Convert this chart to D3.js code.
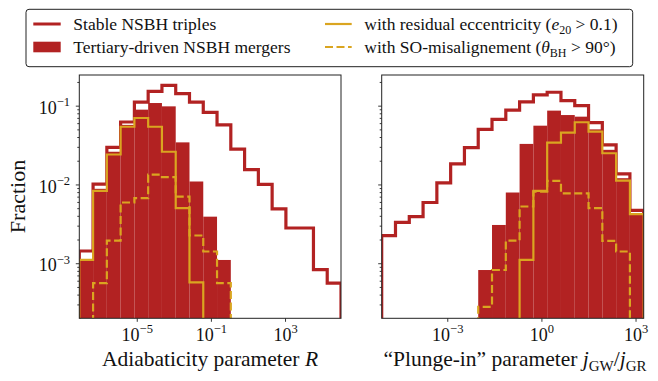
<!DOCTYPE html>
<html>
<head>
<meta charset="utf-8">
<script src="https://cdn.jsdelivr.net/npm/d3@7/dist/d3.min.js"></script>
<style>
  body { margin: 0; background: #fff; }
  text { font-family: 'Liberation Serif', 'Times New Roman', serif; fill: #111; }
</style>
</head>
<body>
<svg id="chart" width="658" height="381"></svg>
<script>
const RED = '#b22222';
const GOLD = '#daa520';

// log10 range of the 19 log-spaced bins in each panel
const rRange = [-8.10, 6.02];
const jRange = [-5.09, 3.26];
const nBins = 19;

// left panel: adiabaticity parameter R
const stableR = [1.43e-3, 0.0101, 0.0295, 0.062, 0.111, 0.152, 0.181, 0.142, 0.111, 0.082, 0.057, 0.028, 0.0154, 0.010, 0.0049, 0.0028, 0.0028, 8.3e-4, 5.6e-4];
const mergerR = [1.12e-3, 0.0088, 0.026, 0.057, 0.089, 0.108, 0.098, 0.0342, 0.0109, 0.0039, 1.1e-3, 0, 0, 0, 0, 0, 0, 0, 0];
const eccR = [1.1e-3, 0.0083, 0.024, 0.054, 0.0697, 0.054, 0.026, 0.005, 5.7e-4, 0, 0, 0, 0, 0, 0, 0, 0, 0, 0];
const misR = [0, 5.6e-4, 1.94e-3, 5.9e-3, 6.7e-3, 0.0133, 0.0124, 7.0e-3, 2.25e-3, 1.41e-3, 5.6e-4, 0, 0, 0, 0, 0, 0, 0, 0];

// right panel: plunge-in parameter jGW/jGR
const stableJ = [2.24e-3, 3.31e-3, 3.9e-3, 5.9e-3, 0.0105, 0.0182, 0.0293, 0.050, 0.067, 0.088, 0.112, 0.137, 0.148, 0.116, 0.100, 0.061, 0.0317, 0.0136, 4.7e-3];
const mergerJ = [0, 0, 0, 0, 0, 0, 0, 8.2e-4, 3.06e-3, 7.9e-3, 0.0327, 0.0557, 0.0865, 0.076, 0.0725, 0.050, 0.0275, 0.012, 4.3e-3];
const eccJ = [0, 0, 0, 0, 0, 0, 0, 0, 0, 0, 1.1e-3, 8.3e-3, 0.034, 0.0454, 0.0616, 0.0467, 0.0249, 0.0112, 4.2e-3];
const misJ = [0, 0, 0, 0, 0, 0, 0, 2.8e-4, 8.2e-4, 1.94e-3, 5.25e-3, 8.1e-3, 0.0111, 0.0077, 0.0077, 0.0050, 1.92e-3, 1.41e-3, 0];

const yTicks = [1e-3, 1e-2, 1e-1];
const rTicks = [1e-5, 1e-1, 1e3];
const jTicks = [1e-3, 1e0, 1e3];

const svg = d3.select('#chart');
svg.append('rect').attr('width', 658).attr('height', 381).attr('fill', '#fff');

const axTop = 75, axBottom = 318.3;
const y = d3.scaleLog().domain([2e-4, 0.245]).range([axBottom, axTop]);

const edges = (r) => d3.range(nBins + 1).map(i => Math.pow(10, r[0] + i * (r[1] - r[0]) / nBins));

function supLabel(sel, exp) {
  sel.text(null);
  sel.append('tspan').text('10');
  sel.append('tspan').attr('dy', -7.5).attr('font-size', 12.5).text(exp < 0 ? '\u2212' + (-exp) : exp);
}

function stepPath(vals, e, x) {
  const yy = v => v > 0 ? y(v) : axBottom + 60;
  const pts = [[x(e[0]), axBottom + 60]];
  vals.forEach((v, i) => { pts.push([x(e[i]), yy(v)]); pts.push([x(e[i + 1]), yy(v)]); });
  pts.push([x(e[e.length - 1]), axBottom + 60]);
  return d3.line()(pts);
}

function panel(id, left, right, range, stable, merger, ecc, mis, xTicks, showY) {
  const e = edges(range);
  const x = d3.scaleLog().domain([e[0], e[nBins]]).range([left, right]);
  const g = svg.append('g');

  g.append('clipPath').attr('id', 'clip-' + id)
    .append('rect').attr('x', left).attr('y', axTop).attr('width', right - left).attr('height', axBottom - axTop);
  const plot = g.append('g').attr('clip-path', `url(#clip-${id})`);

  // filled merger histogram
  plot.selectAll('rect.bar').data(merger.map((v, i) => ({ v, i })).filter(d => d.v > 0)).join('rect')
    .attr('class', 'bar')
    .attr('x', d => x(e[d.i]))
    .attr('width', d => x(e[d.i + 1]) - x(e[d.i]))
    .attr('y', d => y(d.v))
    .attr('height', d => axBottom - y(d.v))
    .attr('fill', RED);

  plot.append('path').attr('d', stepPath(stable, e, x))
    .attr('fill', 'none').attr('stroke', RED).attr('stroke-width', 3.2).attr('stroke-linejoin', 'miter');
  plot.append('path').attr('d', stepPath(ecc, e, x))
    .attr('fill', 'none').attr('stroke', GOLD).attr('stroke-width', 2.2);
  plot.append('path').attr('d', stepPath(mis, e, x))
    .attr('fill', 'none').attr('stroke', GOLD).attr('stroke-width', 2.2).attr('stroke-dasharray', '8,3.5');

  // y axis, major + minor ticks
  const minors = [];
  for (let p = -4; p <= -1; p++) for (let k = 2; k <= 9; k++) {
    const v = k * Math.pow(10, p);
    if (v > 2.05e-4 && v < 0.245) minors.push(v);
  }
  const yAxis = g.append('g').attr('transform', `translate(${left},0)`)
    .call(d3.axisLeft(y).tickValues(yTicks).tickSize(3.5).tickPadding(5).tickFormat(''));
  g.append('g').attr('transform', `translate(${left},0)`)
    .call(d3.axisLeft(y).tickValues(minors).tickSize(2).tickFormat(''));
  if (showY) {
    yAxis.selectAll('.tick text').each(function (d) { supLabel(d3.select(this), Math.round(Math.log10(d))); })
      .attr('font-size', 18).attr('dy', 7.6).attr('x', -9.3);
  }

  const xAxis = g.append('g').attr('transform', `translate(0,${axBottom})`)
    .call(d3.axisBottom(x).tickValues(xTicks).tickSize(3.5).tickPadding(5).tickFormat(''));
  xAxis.selectAll('.tick text').each(function (d) { supLabel(d3.select(this), Math.round(Math.log10(d))); })
    .attr('font-size', 18).attr('dy', null).attr('y', 22.5);

  g.selectAll('.domain').remove();
  g.selectAll('.tick line').attr('stroke', '#222').attr('stroke-width', 0.9);

  g.append('rect').attr('x', left).attr('y', axTop).attr('width', right - left).attr('height', axBottom - axTop)
    .attr('fill', 'none').attr('stroke', '#222').attr('stroke-width', 1);
}

panel('r', 79.3, 341, rRange, stableR, mergerR, eccR, misR, rTicks, true);
panel('j', 381.7, 643.7, jRange, stableJ, mergerJ, eccJ, misJ, jTicks, false);

// axis labels
const xl1 = svg.append('text').attr('x', 210).attr('y', 366).attr('text-anchor', 'middle').attr('font-size', 21.5);
xl1.append('tspan').text('Adiabaticity parameter ');
xl1.append('tspan').attr('font-style', 'italic').text('R');

const xl2 = svg.append('text').attr('x', 515).attr('y', 366).attr('text-anchor', 'middle').attr('font-size', 21.5);
xl2.append('tspan').text('\u201CPlunge-in\u201D parameter ');
xl2.append('tspan').attr('font-style', 'italic').text('j');
xl2.append('tspan').attr('font-size', 15).attr('dy', 5).text('GW');
xl2.append('tspan').attr('dy', -5).text('/');
xl2.append('tspan').attr('font-style', 'italic').text('j');
xl2.append('tspan').attr('font-size', 15).attr('dy', 5).text('GR');

svg.append('text').attr('transform', 'translate(25,196.5) rotate(-90)')
  .attr('text-anchor', 'middle').attr('font-size', 22).text('Fraction');

// legend
const lg = svg.append('g');
lg.append('rect').attr('x', 26).attr('y', 9.3).attr('width', 606.7).attr('height', 57.4)
  .attr('rx', 3).attr('fill', '#fff').attr('stroke', '#222').attr('stroke-width', 1);

lg.append('line').attr('x1', 33.3).attr('x2', 60.7).attr('y1', 24).attr('y2', 24)
  .attr('stroke', RED).attr('stroke-width', 3);
lg.append('rect').attr('x', 33.3).attr('y', 41.7).attr('width', 27.4).attr('height', 10.6).attr('fill', RED);
lg.append('line').attr('x1', 325).attr('x2', 351.7).attr('y1', 24).attr('y2', 24)
  .attr('stroke', GOLD).attr('stroke-width', 2.2);
lg.append('line').attr('x1', 325).attr('x2', 351.7).attr('y1', 47).attr('y2', 47)
  .attr('stroke', GOLD).attr('stroke-width', 2.2).attr('stroke-dasharray', '8,3.5');

lg.append('text').attr('x', 73.3).attr('y', 29.5).attr('font-size', 17.5).text('Stable NSBH triples');
lg.append('text').attr('x', 73.3).attr('y', 52.8).attr('font-size', 17.5).text('Tertiary-driven NSBH mergers');

const t3 = lg.append('text').attr('x', 364.3).attr('y', 29.5).attr('font-size', 17.5);
t3.append('tspan').text('with residual eccentricity (');
t3.append('tspan').attr('font-style', 'italic').text('e');
t3.append('tspan').attr('font-size', 12).attr('dy', 4).text('20');
t3.append('tspan').attr('dy', -4).text(' > 0.1)');

const t4 = lg.append('text').attr('x', 364.3).attr('y', 52.8).attr('font-size', 17.5);
t4.append('tspan').text('with SO-misalignement (');
t4.append('tspan').attr('font-style', 'italic').text('\u03B8');
t4.append('tspan').attr('font-size', 12).attr('dy', 4).text('BH');
t4.append('tspan').attr('dy', -4).text(' > 90\u00B0)');
</script>
</body>
</html>
